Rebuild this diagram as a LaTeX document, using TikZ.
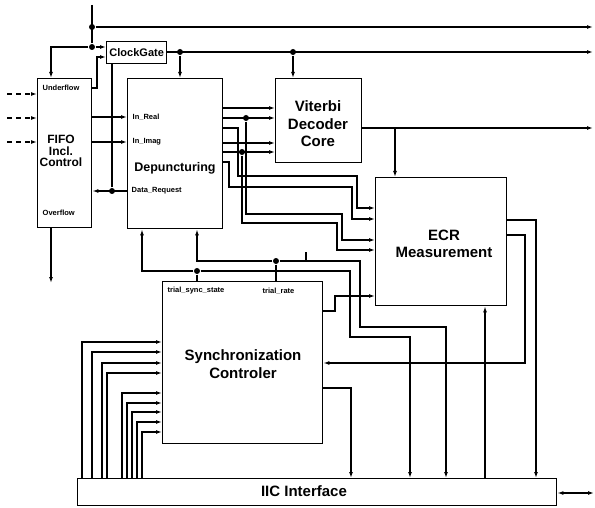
\documentclass[tikz,border=0pt]{standalone}
\usepackage{fontspec}
\setmainfont{Liberation Sans}
\usetikzlibrary{arrows.meta}

\begin{document}
\begin{tikzpicture}[x=1pt, y=-1pt, line width=1.4pt,
	every node/.style={font=\bfseries},
	>={Latex[length=6pt,width=4pt]},
	blk/.style={draw, line width=1.4pt, anchor=north west, inner sep=0pt},
	junc/.style={circle, fill, inner sep=0pt, minimum size=6pt},
	pin/.style={font=\fontsize{7.5}{8}\selectfont\bfseries, anchor=west, inner sep=0pt},
	big/.style={font=\fontsize{15}{17.5}\selectfont\bfseries, align=center}]
	\useasboundingbox (0,0) rectangle (595,508);
	% blocks
	\node[blk, minimum width=54pt, minimum height=149pt] (fifo) at (37,78) {};
	\node[blk, minimum width=95pt, minimum height=150pt] (dep) at (127,78) {};
	\node[blk, minimum width=86pt, minimum height=84pt] (vit) at (275,78) {};
	\node[blk, minimum width=60pt, minimum height=22pt] (clk) at (106,41) {};
	\node[blk, minimum width=131pt, minimum height=128pt] (ecr) at (375,177) {};
	\node[blk, minimum width=160pt, minimum height=162pt] (sync) at (162,281) {};
	\node[blk, minimum width=479pt, minimum height=27pt] (iic) at (77,478) {};
	% block texts
	\node[font=\fontsize{12}{11.5}\selectfont\bfseries, align=center] (fifo-t) at (61,151) {FIFO\\Incl.\\Control};
	\node[font=\fontsize{12.5}{14}\selectfont\bfseries] (dep-t) at (175,168) {Depuncturing};
	\node[font=\fontsize{11}{13}\selectfont\bfseries] (clk-t) at (clk.center) {ClockGate};
	\node[big] (vit-t) at (318,124) {Viterbi\\Decoder\\Core};
	\node[big] (ecr-t) at (444,244) {ECR\\Measurement};
	\node[big] (sync-t) at (243,364) {Synchronization\\Controler};
	\node[big] (iic-t) at (304,491) {IIC Interface};
	% port labels
	\node[pin] (uf) at (42,88) {Underflow};
	\node[pin] (of) at (42,213) {Overflow};
	\node[pin] (in-re) at (132,117) {In\_Real};
	\node[pin] (in-im) at (132,142) {In\_Imag};
	\node[pin] (dr) at (131,191) {Data\_Request};
	\node[pin] (tss-t) at (167,291) {trial\_sync\_state};
	\node[pin] (trt-t) at (262,291) {trial\_rate};
	% junctions and free ends
	\node[junc] (rst) at (92,27) {};
	\node[junc] (clkf) at (92,47) {};
	\node[junc] (gdep) at (180,52) {};
	\node[junc] (gvit) at (293,52) {};
	\node[junc] (dreq) at (112,191) {};
	\node[junc] (re) at (246,118) {};
	\node[junc] (im) at (242,152) {};
	\node[junc] (tss) at (197,271) {};
	\node[junc] (trt) at (276,261) {};
	\coordinate (sysin) at (92,5);
	\coordinate (out1) at (593,27);
	\coordinate (out2) at (593,52);
	\coordinate (out3) at (593,128);
	\coordinate (fifo-out) at (51,283);
	\coordinate (bus) at (594,493);
	% clock and reset
	\draw (sysin) -- (clkf);
	\draw[->] (rst) -- (out1);
	\draw[->] (clkf) -| (51,0 |- fifo.north);
	\draw[->] (clkf) -- (clk.west |- clkf);
	\draw[->] (fifo.east |- uf) -- (97,88) |- (clk.west |- 0,57);
	\draw[->] (clk.east |- 0,52) -- (out2);
	\draw[->] (gdep) -- (gdep |- dep.north);
	\draw[->] (gvit) -- (gvit |- vit.north);
	\draw (dreq) -- (dreq |- clk.south);
	% data path
	\foreach \y in {94,118,142}
		\draw[->, dash pattern=on 5pt off 4pt] (7,\y) -- (fifo.west |- 0,\y);
	\foreach \y in {117,142}
		\draw[->] (fifo.east |- 0,\y) -- (dep.west |- 0,\y);
	\draw[->] (dep.west |- dreq) -- (fifo.east |- dreq);
	\draw[->] (51,0 |- fifo.south) -- (fifo-out);
	\foreach \y in {108,118,143,152}
		\draw[->] (dep.east |- 0,\y) -- (vit.west |- 0,\y);
	\foreach \ya/\xa/\yb/\xb/\yc in {128/238/176/357/208, 162/229/187/352/219}
		\draw[->] (dep.east |- 0,\ya) -| (\xa,\yb) -| (\xb,\yc) -- (ecr.west |- 0,\yc);
	\draw[->] (re) |- (342,214) |- (ecr.west |- 0,240);
	\draw[->] (im) |- (337,223) |- (ecr.west |- 0,250);
	\draw[->] (vit.east |- 0,128) -- (out3);
	\draw[->] (395,128) -- (395,0 |- ecr.north);
	% measurement and control
	\draw[->] (ecr.east |- 0,220) -| (536,0 |- iic.north);
	\draw[->] (ecr.east |- 0,235) -| (525,363) -- (sync.east |- 0,363);
	\draw[->] (485,0 |- iic.north) -- (485,0 |- ecr.south);
	\draw[->] (sync.east |- 0,311) -| (335,296) -- (ecr.west |- 0,296);
	\draw[->] (sync.east |- 0,388) -| (351,0 |- iic.north);
	\draw (tss) -- (tss |- sync.north);
	\draw[->] (tss) -| (142,0 |- dep.south);
	\draw[->] (tss) -| (350,337) -| (410,0 |- iic.north);
	\draw (trt) -- (trt |- sync.north);
	\draw[->] (trt) -| (197,0 |- dep.south);
	\draw[->] (trt) -| (360,327) -| (446,0 |- iic.north);
	\draw (306,261) -- (306,252);
	% IIC to controller
	\foreach \x/\y in {82/342, 92/352, 102/363, 107/373, 122/393, 127/403, 132/412, 137/422, 142/432}
		\draw[->] (\x,0 |- iic.north) |- (sync.west |- 0,\y);
	\draw[<->] (iic.east |- 0,493) -- (bus);
\end{tikzpicture}
\end{document}
